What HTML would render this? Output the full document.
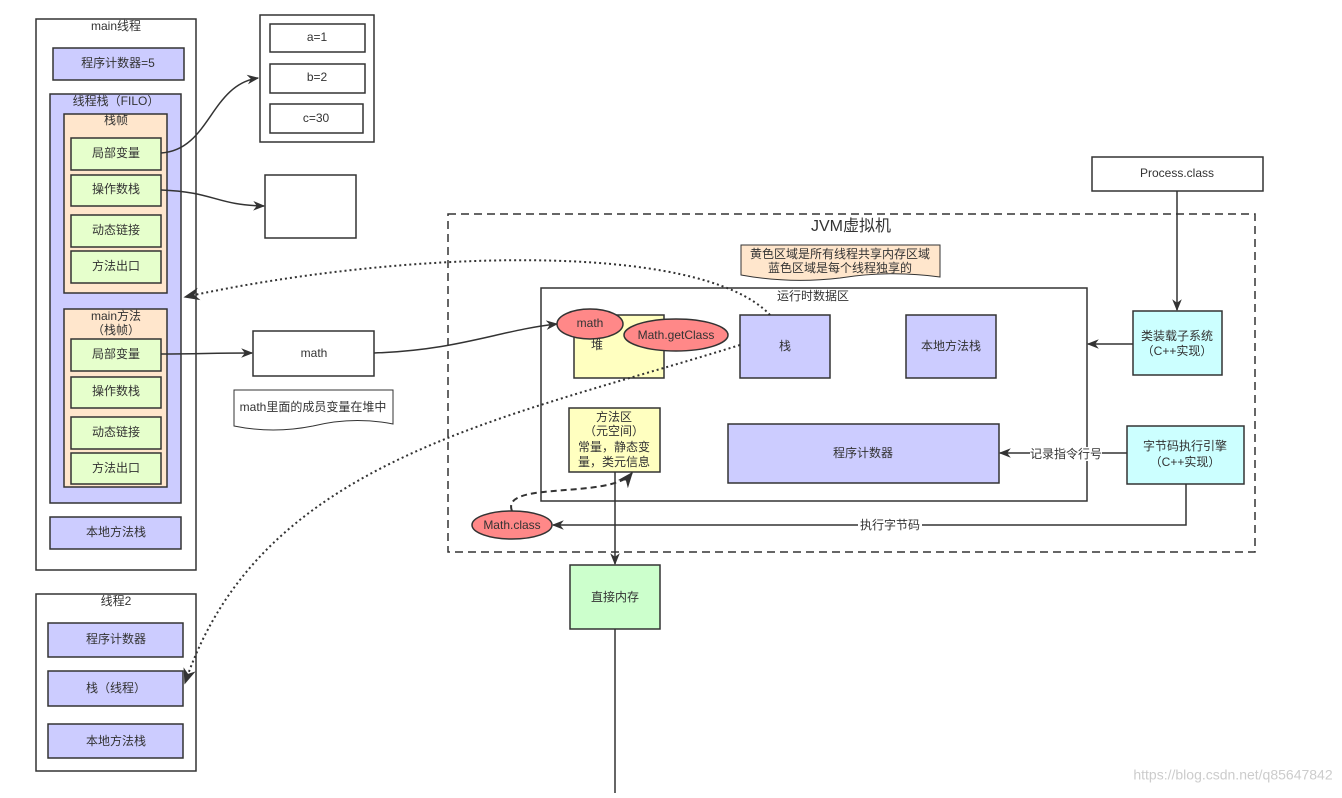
<!DOCTYPE html>
<html><head><meta charset="utf-8"><style>
body{margin:0;background:#fff}
svg text{font-family:"Liberation Sans","Noto Sans CJK SC",sans-serif;font-size:12px;fill:#333;text-anchor:middle;dominant-baseline:middle}
</style></head><body>
<svg width="1342" height="793" viewBox="0 0 1342 793" xmlns="http://www.w3.org/2000/svg">
<defs>
<marker id="a" viewBox="0 0 10 10" refX="9" refY="5" markerWidth="8" markerHeight="8" orient="auto"><path d="M0,1 L10,5 L0,9 L3,5z" fill="#333"/></marker>
</defs>
<g stroke="#333" stroke-width="1.5">
<rect x="36" y="19" width="160" height="551" fill="#fff"/>
<rect x="53" y="48" width="131" height="32" fill="#ccf"/>
<rect x="50" y="94" width="131" height="409" fill="#ccf"/>
<rect x="64" y="114" width="103" height="179" fill="#ffe6cc"/>
<rect x="71" y="138" width="90" height="32" fill="#e6ffcc"/>
<rect x="71" y="175" width="90" height="31" fill="#e6ffcc"/>
<rect x="71" y="215" width="90" height="32" fill="#e6ffcc"/>
<rect x="71" y="251" width="90" height="32" fill="#e6ffcc"/>
<rect x="64" y="309" width="103" height="178" fill="#ffe6cc"/>
<rect x="71" y="339" width="90" height="32" fill="#e6ffcc"/>
<rect x="71" y="377" width="90" height="31" fill="#e6ffcc"/>
<rect x="71" y="417" width="90" height="32" fill="#e6ffcc"/>
<rect x="71" y="453" width="90" height="31" fill="#e6ffcc"/>
<rect x="50" y="517" width="131" height="32" fill="#ccf"/>
<rect x="260" y="15" width="114" height="127" fill="#fff"/>
<rect x="270" y="24" width="95" height="28" fill="#fff"/>
<rect x="270" y="64" width="95" height="29" fill="#fff"/>
<rect x="270" y="104" width="93" height="29" fill="#fff"/>
<rect x="265" y="175" width="91" height="63" fill="#fff"/>
<rect x="253" y="331" width="121" height="45" fill="#fff"/>
<path d="M234,390 H393 V424 Q353,416 313,426 Q273,434 234,426 Z" fill="#fff" stroke-width="1"/>
<rect x="448" y="214" width="807" height="338" fill="none" stroke-dasharray="8,5"/>
<path d="M741,245 H940 V277 Q890,270 840,278 Q790,284 741,275 Z" fill="#ffe6cc" stroke-width="1"/>
<rect x="541" y="288" width="546" height="213" fill="none"/>
<rect x="574" y="315" width="90" height="63" fill="#ffffc0"/>
<rect x="740" y="315" width="90" height="63" fill="#ccf"/>
<rect x="906" y="315" width="90" height="63" fill="#ccf"/>
<rect x="569" y="408" width="91" height="64" fill="#ffffc0"/>
<rect x="728" y="424" width="271" height="59" fill="#ccf"/>
<rect x="1133" y="311" width="89" height="64" fill="#cff"/>
<rect x="1127" y="426" width="117" height="58" fill="#cff"/>
<rect x="1092" y="157" width="171" height="34" fill="#fff"/>
<rect x="570" y="565" width="90" height="64" fill="#cfc"/>
<rect x="36" y="594" width="160" height="177" fill="#fff"/>
<rect x="48" y="623" width="135" height="34" fill="#ccf"/>
<rect x="48" y="671" width="135" height="35" fill="#ccf"/>
<rect x="48" y="724" width="135" height="34" fill="#ccf"/>
</g>
<g stroke="#333" stroke-width="1.5" fill="none">
<path d="M161,153 C210,150 210,85 258,78" marker-end="url(#a)"/>
<path d="M161,190 C215,192 215,205 264,206" marker-end="url(#a)"/>
<path d="M161,354 C200,354 210,353 252,353" marker-end="url(#a)"/>
<path d="M374,353 C460,350 500,330 557,324" marker-end="url(#a)"/>
<path d="M1177,191 V310" marker-end="url(#a)"/>
<path d="M1133,344 H1088" marker-end="url(#a)"/>
<path d="M1127,453 H1000" marker-end="url(#a)"/>
<path d="M1186,484 V525 H553" marker-end="url(#a)"/>
<path d="M615,472 V564" marker-end="url(#a)"/>
<path d="M615,629 V793"/>
<path d="M512,511 C500,480 610,500 632,473" stroke-dasharray="6,4" stroke-width="2" marker-end="url(#a)"/>
<path d="M770,315 C700,240 400,250 185,297" stroke-dasharray="2,3" stroke-width="2" marker-end="url(#a)"/>
<path d="M740,345 C500,420 260,460 185,683" stroke-dasharray="2,3" stroke-width="2" marker-end="url(#a)"/>
</g>
<g stroke="#333" stroke-width="1.5" fill="#f88">
<ellipse cx="590" cy="324" rx="33" ry="15"/>
<ellipse cx="676" cy="335" rx="52" ry="16"/>
<ellipse cx="512" cy="525" rx="40" ry="14"/>
</g>
<rect x="1030" y="447" width="72" height="14" fill="#fff"/>
<rect x="858" y="519" width="64" height="14" fill="#fff"/>
<text x="116" y="27">main线程</text>
<text x="118" y="64">程序计数器=5</text>
<text x="116" y="102">线程栈（FILO）</text>
<text x="116" y="121">栈帧</text>
<text x="116" y="154">局部变量</text>
<text x="116" y="190">操作数栈</text>
<text x="116" y="231">动态链接</text>
<text x="116" y="267">方法出口</text>
<text x="116" y="317">main方法</text>
<text x="116" y="331">（栈帧）</text>
<text x="116" y="355">局部变量</text>
<text x="116" y="392">操作数栈</text>
<text x="116" y="433">动态链接</text>
<text x="116" y="469">方法出口</text>
<text x="116" y="533">本地方法栈</text>
<text x="317" y="38">a=1</text>
<text x="317" y="78">b=2</text>
<text x="316" y="119">c=30</text>
<text x="314" y="354">math</text>
<text x="313" y="408">math里面的成员变量在堆中</text>
<text x="851" y="227" style="font-size:16px">JVM虚拟机</text>
<text x="840" y="255">黄色区域是所有线程共享内存区域</text>
<text x="840" y="269">蓝色区域是每个线程独享的</text>
<text x="813" y="297">运行时数据区</text>
<text x="597" y="346">堆</text>
<text x="590" y="324">math</text>
<text x="676" y="336">Math.getClass</text>
<text x="785" y="347">栈</text>
<text x="951" y="347">本地方法栈</text>
<text x="614" y="418">方法区</text>
<text x="614" y="432">（元空间）</text>
<text x="614" y="448">常量，静态变</text>
<text x="614" y="463">量，类元信息</text>
<text x="863" y="454">程序计数器</text>
<text x="1177" y="337">类装载子系统</text>
<text x="1177" y="352">（C++实现）</text>
<text x="1185" y="447">字节码执行引擎</text>
<text x="1185" y="463">（C++实现）</text>
<text x="1177" y="174">Process.class</text>
<text x="1066" y="455">记录指令行号</text>
<text x="890" y="526">执行字节码</text>
<text x="512" y="526">Math.class</text>
<text x="615" y="598">直接内存</text>
<text x="116" y="602">线程2</text>
<text x="116" y="640">程序计数器</text>
<text x="116" y="689">栈（线程）</text>
<text x="116" y="742">本地方法栈</text>
<text x="1233" y="776" style="fill:#ccc;font-size:14px">https://blog.csdn.net/q85647842</text>
</svg>
</body></html>
